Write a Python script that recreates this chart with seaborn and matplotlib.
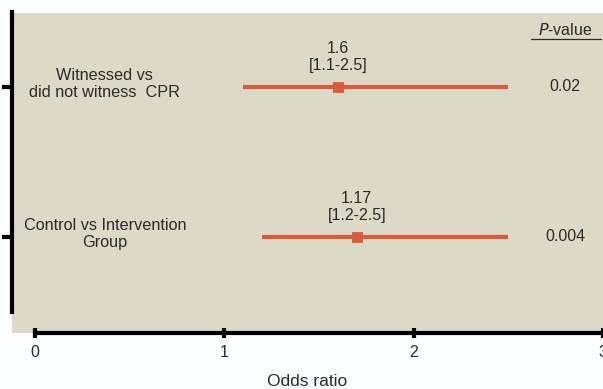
import matplotlib
matplotlib.use("Agg")
import matplotlib.pyplot as plt
import seaborn as sns
import pandas as pd

comparisons = ["Witnessed vs\ndid not witness  CPR", "Control vs Intervention\nGroup"]
odds_ratio = [1.6, 1.7]
ci_low = [1.1, 1.2]
ci_high = [2.5, 2.5]
or_labels = ["1.6\n[1.1-2.5]", "1.17\n[1.2-2.5]"]
p_values = ["0.02", "0.004"]
x_ticks = [0, 1, 2, 3]

sns.set_style("white")
plt.rcParams['font.family'] = ['Liberation Sans', 'DejaVu Sans']

color = "#d95b3c"
txt = "#2a2a2a"
df = pd.DataFrame({"row": [0, 1], "or": odds_ratio, "lo": ci_low, "hi": ci_high})

fig = plt.figure(figsize=(6.03, 3.89), dpi=100, facecolor="#fbfcfd")
ax = fig.add_axes([12/603, 56/389, 591/603, 320/389])
ax.set_facecolor("#dcdac7")

ax.hlines(df["row"], df["lo"], df["hi"], color=color, lw=3, zorder=2)
sns.scatterplot(data=df, x="or", y="row", marker="s", s=60, color=color,
                edgecolor=color, ax=ax, zorder=3, legend=False)

for i, r in df.iterrows():
    ax.text(r["or"], r["row"] - 0.09, or_labels[i], ha="center", va="bottom",
            fontsize=11.5, color=txt, linespacing=1.2)
    ax.text(2.80, r["row"], p_values[i], ha="center", va="center",
            fontsize=11.5, color=txt)

ax.text(2.80, -0.38, r"$\it{P}$-value", ha="center", va="center",
        fontsize=11.5, color=txt)
ax.plot([2.62, 2.99], [-0.32, -0.32], color=txt, lw=0.9, clip_on=False)

ax.set_xlim(-0.12, 3.0)
ax.set_ylim(1.64, -0.493)
ax.set_xticks(x_ticks)
ax.set_xticklabels([str(t) for t in x_ticks], fontsize=11.5, color=txt)
ax.set_yticks([0, 1])
ax.set_yticklabels([])
for i, lab in enumerate(comparisons):
    ax.text(0.37, i - 0.02, lab, ha="center", va="center", fontsize=11.7,
            color=txt, linespacing=1.2)

ax.set_xlabel("Odds ratio", fontsize=12.5, color=txt, labelpad=10)
ax.set_ylabel("")

for s in ["top", "right"]:
    ax.spines[s].set_visible(False)
ax.spines["left"].set_linewidth(3)
ax.spines["bottom"].set_linewidth(3)
ax.spines["left"].set_color("black")
ax.spines["bottom"].set_color("black")
ax.spines["left"].set_bounds(-0.5, 1.5)
ax.spines["bottom"].set_bounds(0, 3)
ax.tick_params(axis="y", direction="out", length=7, width=3, color="black", left=True)
ax.tick_params(axis="x", direction="inout", length=7, width=3, color="black",
               bottom=True, pad=5)

fig.savefig("out.png", dpi=100, facecolor=fig.get_facecolor())
